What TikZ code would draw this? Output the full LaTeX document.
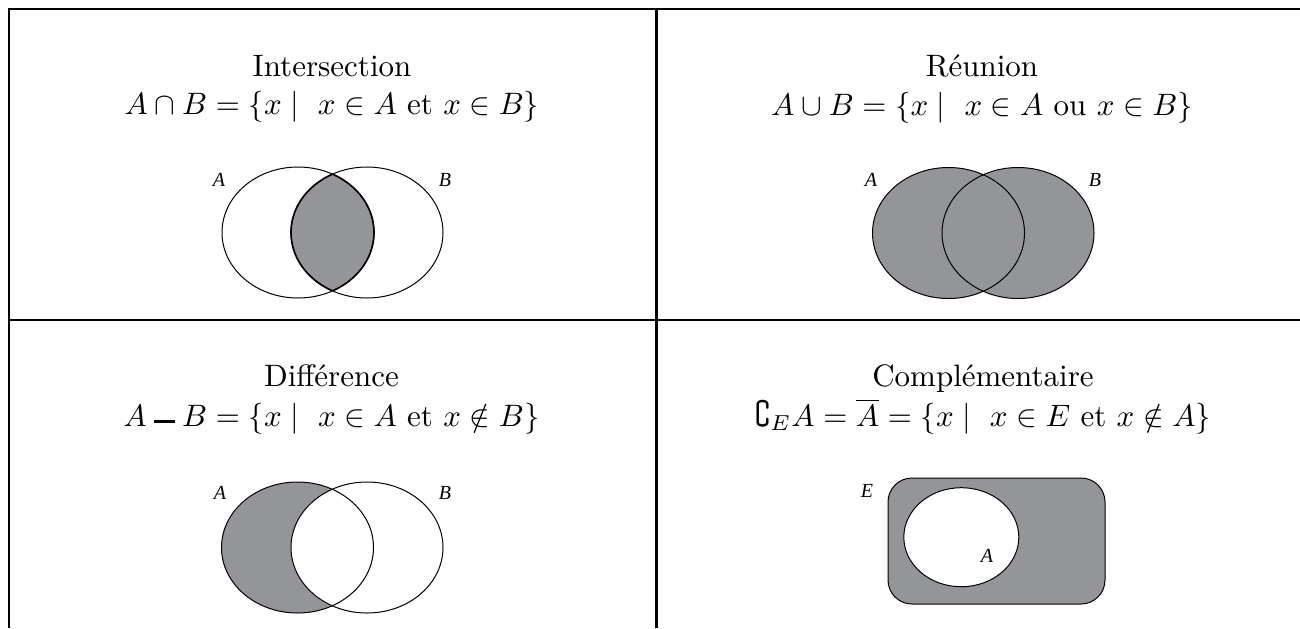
\documentclass[tikz,border=0pt]{standalone}
\usepackage{amssymb}
\usepackage{fontspec}
\newfontfamily\labfont{Liberation Serif}
\definecolor{setgray}{RGB}{147,149,152}
\newcommand{\heavyminus}{\mathbin{\rule[0.11em]{0.7em}{0.1em}}}
\newcommand{\mynotin}{\mathrel{\ooalign{$\in$\cr\hidewidth$\vcenter{\hbox{\rotatebox{-22}{\rule{0.04em}{1.0em}}}}$\hidewidth\cr}}}
\begin{document}
\begin{tikzpicture}[x=0.5pt,y=-0.5pt,
  title/.style={anchor=base, inner sep=0pt, font=\normalsize, scale=1.55, transform shape},
  lab/.style={inner sep=0pt, font=\labfont\itshape\fontsize{10}{12}\selectfont},
  frameline/.style={line width=1pt},
  midline/.style={line width=1.5pt},
  setline/.style={line width=0.5pt},
  lensline/.style={line width=0.8pt},
  setfill/.style={fill=setgray}]
\useasboundingbox (0,0) rectangle (1300,628);
\fill[white] (0,0) rectangle (1300,628);

% frame
\draw[frameline] (8,8.5) -- (1300,8.5);
\draw[frameline] (9,8) -- (9,628);
\draw[frameline] (8,320) -- (1300,320);
\draw[midline] (656.5,8) -- (656.5,628);

% ---------- Intersection ----------
\node[title] (t1) at (332,76) {Intersection};
\node[title] (f1) at (332,114) {$A\cap B=\{x\mid\ x\in A\mbox{ et }x\in B\}$};
\begin{scope}
  \clip (298,232.5) ellipse [x radius=76, y radius=65.5];
  \fill[setgray] (367,232.5) ellipse [x radius=76, y radius=65.5];
  \draw[lensline] (367,232.5) ellipse [x radius=76, y radius=65.5];
\end{scope}
\begin{scope}
  \clip (367,232.5) ellipse [x radius=76, y radius=65.5];
  \draw[lensline] (298,232.5) ellipse [x radius=76, y radius=65.5];
\end{scope}
\draw[setline] (298,232.5) ellipse [x radius=76, y radius=65.5];
\draw[setline] (367,232.5) ellipse [x radius=76, y radius=65.5];
\node[lab] (a1) at (219,180) {A};
\node[lab] (b1) at (445,180) {B};

% ---------- Reunion ----------
\node[title] (t2) at (982,76) {Réunion};
\node[title] (f2) at (982,115) {$A\cup B=\{x\mid\ x\in A\mbox{ ou }x\in B\}$};
\fill[setgray] (948.5,233) ellipse [x radius=76, y radius=65.5];
\fill[setgray] (1018,233) ellipse [x radius=76, y radius=65.5];
\draw[setline] (948.5,233) ellipse [x radius=76, y radius=65.5];
\draw[setline] (1018,233) ellipse [x radius=76, y radius=65.5];
\node[lab] (a2) at (871,180) {A};
\node[lab] (b2) at (1095,180) {B};

% ---------- Difference ----------
\node[title] (t3) at (331.5,386) {Différence};
\node[title] (f3) at (331.5,426) {$A\heavyminus B=\{x\mid\ x\in A\mbox{ et }x\mynotin B\}$};
\fill[setgray] (297.5,547.5) ellipse [x radius=76, y radius=65.5];
\begin{scope}
  \clip (297.5,547.5) ellipse [x radius=76, y radius=65.5];
  \fill[white] (367,547.5) ellipse [x radius=76, y radius=65.5];
\end{scope}
\draw[setline] (297.5,547.5) ellipse [x radius=76, y radius=65.5];
\draw[setline] (367,547.5) ellipse [x radius=76, y radius=65.5];
\node[lab] (a3) at (220,493) {A};
\node[lab] (b3) at (445,493) {B};

% ---------- Complementaire ----------
\node[title] (t4) at (983,386) {Complémentaire};
\node[title] (f4) at (983,426) {$\complement_E A=\overline{A}=\{x\mid\ x\in E\mbox{ et }x\mynotin A\}$};
\draw[setline, setfill, rounded corners=12pt] (888,478) rectangle (1105,604);
\draw[setline, fill=white] (961.3,537.2) ellipse [x radius=57.5, y radius=49.5];
\node[lab] (e4) at (867,491) {E};
\node[lab] (a4) at (987,556) {A};
\end{tikzpicture}
\end{document}
